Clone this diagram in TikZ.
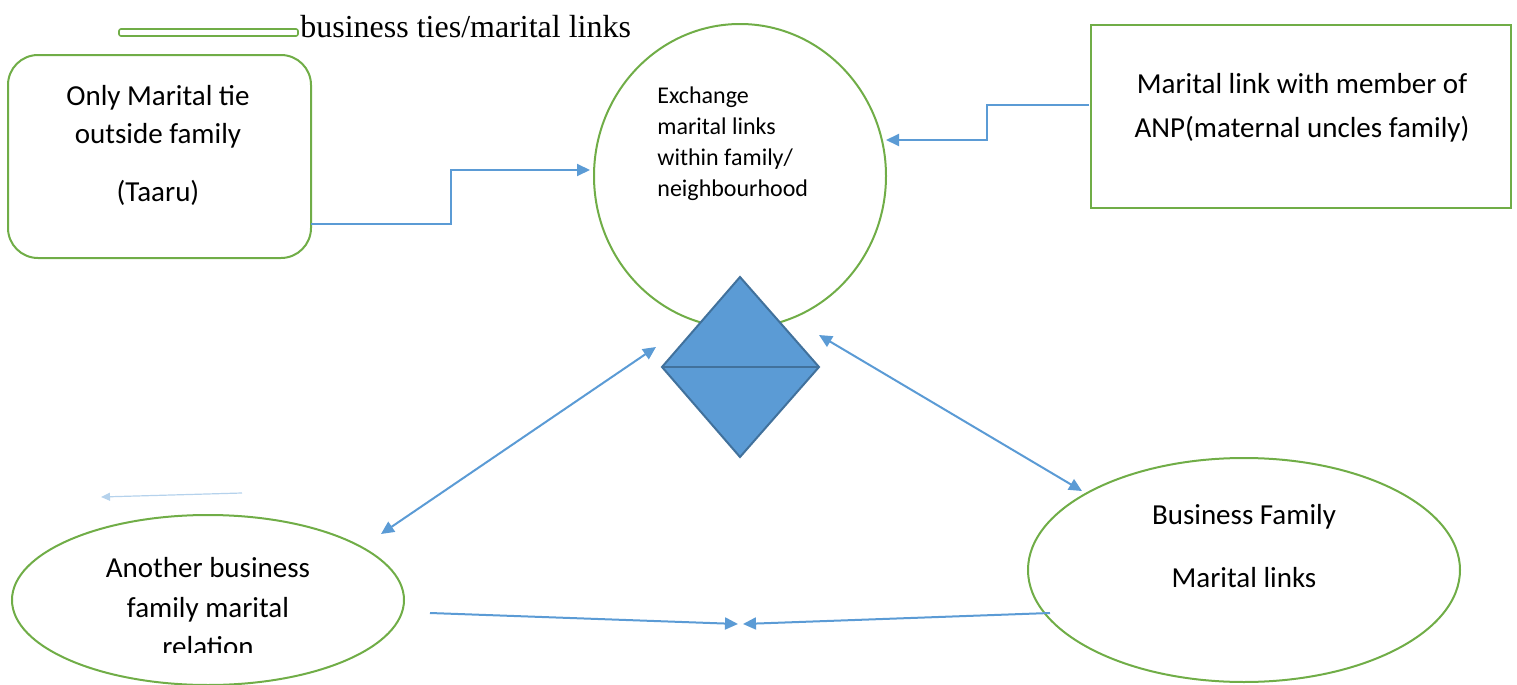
\documentclass[tikz,border=0pt]{standalone}
\usepackage{fontspec}
\setmainfont{Carlito}
\newfontfamily\timesfont{Liberation Serif}
\usetikzlibrary{arrows.meta,shapes.geometric}
\definecolor{grn}{HTML}{70AD47}
\definecolor{blu}{HTML}{5B9BD5}
\definecolor{dblu}{HTML}{41719C}
\tikzset{
  gshape/.style={draw=grn,line width=1pt},
  conn/.style={draw=blu,line width=1pt},
  tip/.style={-{Triangle[length=6.5pt,width=6pt]}},
  dtip/.style={{Triangle[length=6.5pt,width=6pt]}-{Triangle[length=6.5pt,width=6pt]}},
  big/.style={font=\fontsize{14.5}{17}\selectfont,inner sep=0pt,anchor=base},
  small/.style={font=\fontsize{12}{14}\selectfont,inner sep=0pt,anchor=base west},
}
\begin{document}
\begin{tikzpicture}[x=0.5pt,y=-0.5pt]
\useasboundingbox (0,0) rectangle (1517,685);
% legend
\node[draw=grn,line width=0.8pt,rounded corners=1pt,minimum width=89.5pt,minimum height=3.5pt,inner sep=0pt] (leg) at (208.5,32.5) {};
\node[font=\timesfont\fontsize{16}{18}\selectfont,anchor=base west,inner sep=0pt] (legt) at (300,37) {business ties/marital links};
% left rounded rectangle
\node[gshape,rounded corners=15pt,minimum width=151.5pt,minimum height=101.5pt] (lr) at (159.5,156.5) {};
\node[big] (lr1) at (158,105) {Only Marital tie};
\node[big] (lr2) at (158,143) {outside family};
\node[big] (lr3) at (158,201) {(Taaru)};
% circle
\node[gshape,ellipse,minimum width=146pt,minimum height=152pt,inner sep=0pt] (circ) at (740,176) {};
\node[small] (c1) at (657,103) {Exchange};
\node[small] (c2) at (657,134) {marital links};
\node[small] (c3) at (657,165) {within family/};
\node[small] (c4) at (657,196) {neighbourhood};
% right rectangle
\node[gshape,minimum width=210pt,minimum height=91.5pt] (rr) at (1301,116.5) {};
\node[big] (rr1) at (1302,93) {Marital link with member of};
\node[big] (rr2) at (1302,137) {ANP(maternal uncles family)};
% diamond
\coordinate (dt) at (740,277);
\coordinate (dl) at (662,367);
\coordinate (dr) at (819,367);
\coordinate (db) at (740,457);
\filldraw[fill=blu,draw=dblu,line width=1pt,line join=miter] (dt) -- (dr) -- (db) -- (dl) -- cycle;
\draw[draw=dblu,line width=1pt] (dl) -- (dr);
% bottom right ellipse
\node[gshape,ellipse,minimum width=216pt,minimum height=112pt,inner sep=0pt] (bre) at (1244,570) {};
\node[big] (br1) at (1244,524) {Business Family};
\node[big] (br2) at (1244,587) {Marital links};
% bottom left ellipse
\node[gshape,ellipse,minimum width=196pt,minimum height=85pt,inner sep=0pt] (ble) at (208,600) {};
\node[big] (bl1) at (208,577) {Another business};
\node[big] (bl2) at (208,617) {family marital};
\begin{scope}
\clip (0,0) rectangle (1517,652);
\node[big] (bl3) at (208,656) {relation};
\end{scope}
% connectors
\coordinate (a1) at (311,224);
\coordinate (a2) at (590,170);
\draw[conn,tip] (a1) -- (451,224) -- (451,170) -- (a2);
\coordinate (b1) at (1089,105);
\coordinate (b2) at (886,140);
\draw[conn,tip] (b1) -- (987,105) -- (987,140) -- (b2);
\coordinate (c1a) at (381,534);
\coordinate (c1b) at (656,347);
\draw[conn,dtip] (c1a) -- (c1b);
\coordinate (d1a) at (819,335);
\coordinate (d1b) at (1082,491);
\draw[conn,dtip] (d1a) -- (d1b);
\coordinate (e1) at (430,613);
\coordinate (e2) at (738,624);
\draw[conn,tip] (e1) -- (e2);
\coordinate (f1) at (1050,613);
\coordinate (f2) at (743,624);
\draw[conn,tip] (f1) -- (f2);
\coordinate (g1) at (242,493);
\coordinate (g2) at (101,497);
\draw[draw=blu!45,line width=0.6pt,-{Triangle[length=4.5pt,width=4pt]}] (g1) -- (g2);
\end{tikzpicture}
\end{document}
